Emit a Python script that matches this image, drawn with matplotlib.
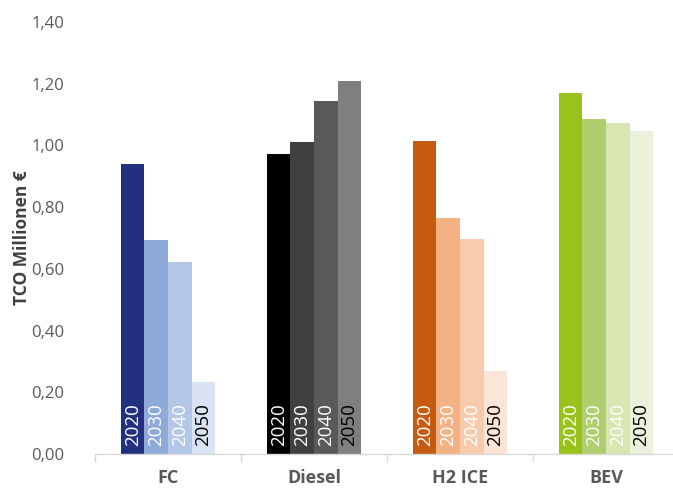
import matplotlib.pyplot as plt
import numpy as np

plt.rcParams['font.family'] = ['Open Sans', 'DejaVu Sans']

categories = ['FC', 'Diesel', 'H2 ICE', 'BEV']
years = ['2020', '2030', '2040', '2050']
values = {
    'FC': [0.94, 0.693, 0.622, 0.233],
    'Diesel': [0.972, 1.011, 1.144, 1.209],
    'H2 ICE': [1.014, 0.765, 0.697, 0.269],
    'BEV': [1.170, 1.086, 1.073, 1.047],
}
colors = {
    'FC': ['#233080', '#8FAAD9', '#B4C7E7', '#DAE3F3'],
    'Diesel': ['#000000', '#404040', '#595959', '#7F7F7F'],
    'H2 ICE': ['#C55A11', '#F4B183', '#F8CBAD', '#FBE5D6'],
    'BEV': ['#99C31A', '#AFCE6E', '#D8E7B2', '#EBF1DA'],
}
text_colors = ['white', 'white', 'white', 'black']

fig = plt.figure(figsize=(6.73, 4.88), dpi=100)
ax = fig.add_axes([95 / 673, 34 / 488, 584 / 673, 432 / 488])

w = 0.161
x = np.arange(len(categories))
for i, cat in enumerate(categories):
    for j, yr in enumerate(years):
        xp = x[i] + (j - 1.5) * w
        ax.bar(xp, values[cat][j], width=w, color=colors[cat][j], linewidth=0)
        ax.text(xp, 0.025, yr, rotation=90, ha='center', va='bottom',
                fontsize=13.5, color=text_colors[j])

ax.set_xlim(-0.5, 3.5)
ax.set_ylim(0, 1.4)
ticks = np.arange(0, 1.41, 0.2)
ax.set_yticks(ticks)
ax.set_yticklabels([f'{v:.2f}'.replace('.', ',') for v in ticks],
                   fontsize=12, color='#595959')
ax.set_xticks(x)
ax.set_xticklabels(categories, fontsize=13, fontweight='bold', color='#595959')
ax.set_xticks(np.arange(-0.5, 4, 1), minor=True)
ax.tick_params(axis='x', which='major', length=0, pad=11)
ax.tick_params(axis='x', which='minor', length=6, color='#D9D9D9', width=1)
ax.tick_params(axis='y', length=0, pad=22)

for s in ['top', 'right', 'left']:
    ax.spines[s].set_visible(False)
ax.spines['bottom'].set_color('#D9D9D9')
ax.spines['bottom'].set_linewidth(1)

ax.set_ylabel('TCO Millionen €', fontsize=12.5, fontweight='bold', color='#404040', labelpad=0)

fig.savefig('out.png', dpi=100)
